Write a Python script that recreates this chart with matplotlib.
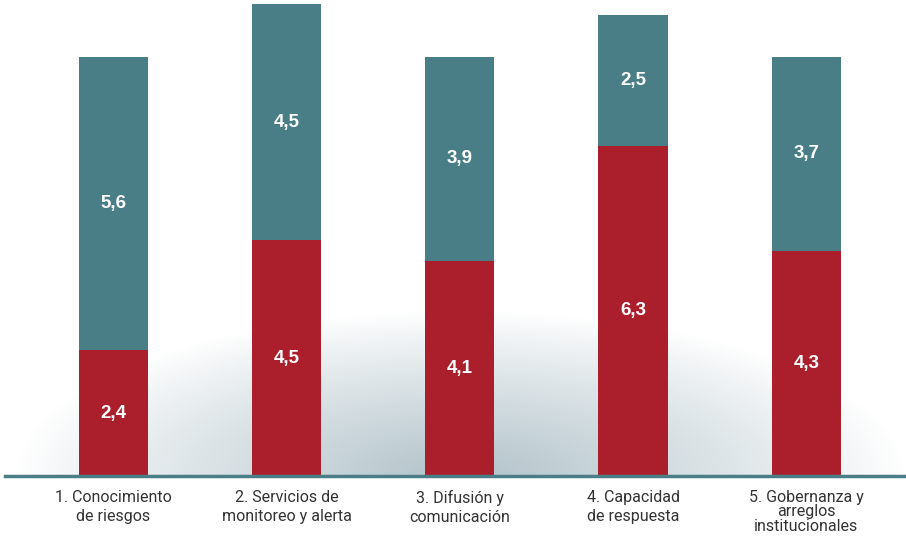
import numpy as np
import matplotlib.pyplot as plt

# --- Data ---
categories = ['1. Conocimiento\nde riesgos',
              '2. Servicios de\nmonitoreo y alerta',
              '3. Difusión y\ncomunicación',
              '4. Capacidad\nde respuesta',
              '5. Gobernanza y\narreglos\ninstitucionales']
red_values = [2.4, 4.5, 4.1, 6.3, 4.3]
teal_values = [5.6, 4.5, 3.9, 2.5, 3.7]

RED = '#ab1f2d'
TEAL = '#4a7e87'

W, H = 906, 542
fig = plt.figure(figsize=(W / 100, H / 100), dpi=100)

# --- Soft radial background behind the bars ---
bg = fig.add_axes([0, 0, 1, 1], zorder=0)
yy, xx = np.mgrid[0:H, 0:W]
t = np.sqrt(((xx - 460) / 445.0) ** 2 + ((yy - 476) / 165.0) ** 2)
k = np.clip(1 - t, 0, 1) ** 0.9
k[yy > 476] = 0
centre = np.array([178, 195, 202]) / 255.0
img = 1 - (1 - centre)[None, None, :] * k[:, :, None]
bg.imshow(img, extent=[0, W, H, 0], aspect='auto', interpolation='bilinear')
bg.set_xlim(0, W)
bg.set_ylim(H, 0)
bg.axis('off')

# --- Bars ---
ax = fig.add_axes([5 / W, 1 - 476 / H, 1 - 5 / W, 476 / H], zorder=1)
ax.patch.set_alpha(0)
x = np.arange(len(categories))
ax.bar(x, red_values, width=0.4, color=RED, zorder=2)
ax.bar(x, teal_values, width=0.4, bottom=red_values, color=TEAL, zorder=2)

lab_font = dict(color='white', fontsize=13.5, fontweight='bold',
                family='Liberation Sans', ha='center', va='center', zorder=3)
for i in range(len(categories)):
    ax.text(x[i], red_values[i] / 2, f'{red_values[i]:.1f}'.replace('.', ','), **lab_font)
    ax.text(x[i], red_values[i] + teal_values[i] / 2,
            f'{teal_values[i]:.1f}'.replace('.', ','), **lab_font)

ax.set_xlim(-0.625, 4.575)
ax.set_ylim(0, 9.08)
ax.set_yticks([])
ax.set_xticks(x)
ticklabels = ax.set_xticklabels(categories, fontsize=11.5, color='#333333',
                                family=['Roboto', 'DejaVu Sans'], linespacing=1.35)
ticklabels[-1].set_linespacing(0.95)
ax.tick_params(axis='x', length=0, pad=10)
for s in ['top', 'right', 'left']:
    ax.spines[s].set_visible(False)
ax.spines['bottom'].set_color(TEAL)
ax.spines['bottom'].set_linewidth(2.5)

fig.savefig('out.png', dpi=100)
